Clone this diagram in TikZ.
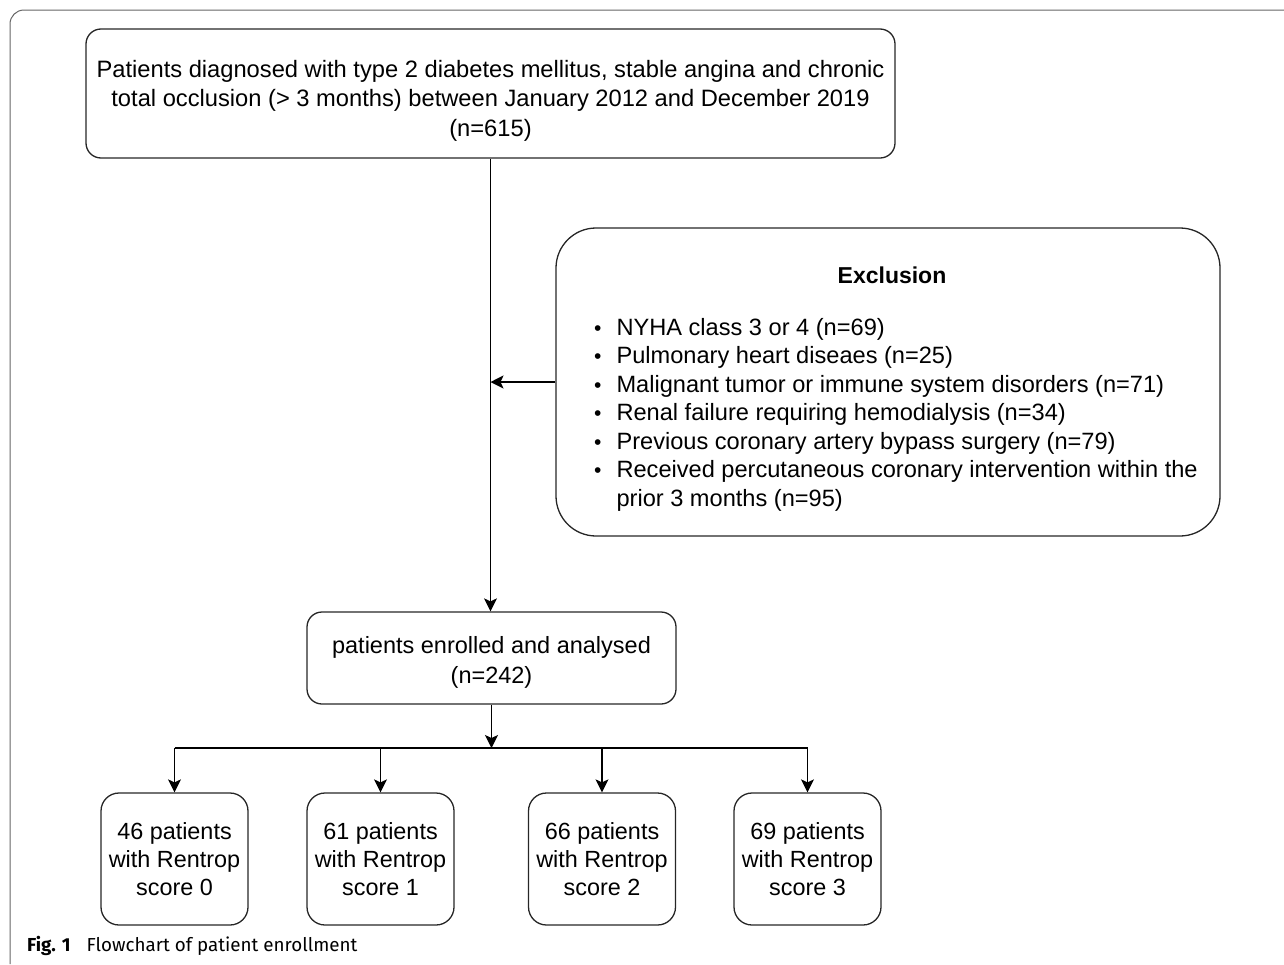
\documentclass[tikz,border=0pt]{standalone}
\usepackage{fontspec}
\setmainfont{Liberation Sans}
\newfontfamily\capfont{Fira Sans}
\usetikzlibrary{arrows.meta}

\tikzset{
  box/.style={draw=black!85, line width=1.3pt, rounded corners=15pt, align=center,
    font=\fontsize{23.7}{29.5}\selectfont},
  scorebox/.style={box, minimum width=147pt, minimum height=132pt, rounded corners=18pt,
    font=\fontsize{23.4}{27.8}\selectfont},
  exbox/.style={draw=black!85, line width=1.3pt, rounded corners=40pt},
  arr/.style={line width=1.3pt, -{Stealth[length=13pt, width=13pt, inset=3pt]}},
  frame/.style={draw=black!60, line width=1pt, rounded corners=14pt}
}
\newcommand{\exitem}{{\fontsize{21}{21}\selectfont\textbullet}}

\begin{document}
\begin{tikzpicture}[x=1pt, y=-1pt]
    \useasboundingbox (0,0) rectangle (1284,964);

    % Outer frame
    \draw[frame] (10,964) -- (10,10) -- (1284,10);

    % Boxes
    \node[box, minimum width=809pt, minimum height=129pt] (screen) at (490.5,93.5)
        {\rule{0pt}{31pt}Patients diagnosed with type 2 diabetes mellitus, stable angina and chronic\\
         total occlusion (> 3 months) between January 2012 and December 2019\\
         (n=615)};

    \node[exbox, minimum width=664pt, minimum height=308pt] (excl) at (888,382) {};
    \node[font=\fontsize{23}{28}\selectfont\bfseries] (extitle) at (892,275) {Exclusion};
    \node[anchor=north west, inner sep=0pt, font=\fontsize{23.6}{28.5}\selectfont] (exlist) at (594,315)
        {\begin{tabular}{@{}c@{\hspace{15pt}}l@{}}
         \exitem & NYHA class 3 or 4 (n=69)\\
         \exitem & Pulmonary heart diseaes (n=25)\\
         \exitem & Malignant tumor or immune system disorders (n=71)\\
         \exitem & Renal failure requiring hemodialysis (n=34)\\
         \exitem & Previous coronary artery bypass surgery (n=79)\\
         \exitem & Received percutaneous coronary intervention within the\\
          & prior 3 months (n=95)
         \end{tabular}};

    \node[box, minimum width=369pt, minimum height=92pt, font=\fontsize{23.5}{30}\selectfont] (enrol) at (491.5,658)
        {\rule{0pt}{25pt}patients enrolled and analysed\\(n=242)};

    \node[scorebox] (s0) at (174.5,859) {46 patients\\with Rentrop\\score 0};
    \node[scorebox] (s1) at (380.5,859) {61 patients\\with Rentrop\\score 1};
    \node[scorebox] (s2) at (602,859) {66 patients\\with Rentrop\\score 2};
    \node[scorebox] (s3) at (807.5,859) {69 patients\\with Rentrop\\score 3};

    % Connectors
    \draw[arr] (screen.south) -- (screen.south |- enrol.north);
    \draw[arr] (excl.west) -- (excl.west -| screen.south);

    \coordinate (split) at (491.5,748);
    \draw[arr] (enrol.south) -- (split);
    \draw[line width=1.3pt] (s0.north |- split) -- (s3.north |- split);
    \foreach \i in {0,...,3}
        \draw[arr] (s\i.north |- split) -- (s\i.north);

    % Caption
    \node[anchor=base west, inner sep=0pt, font=\capfont\fontsize{18.8}{22}\selectfont] (caption) at (27,951)
        {\textbf{Fig. 1}\hspace{16pt}Flowchart of patient enrollment};

\end{tikzpicture}
\end{document}
